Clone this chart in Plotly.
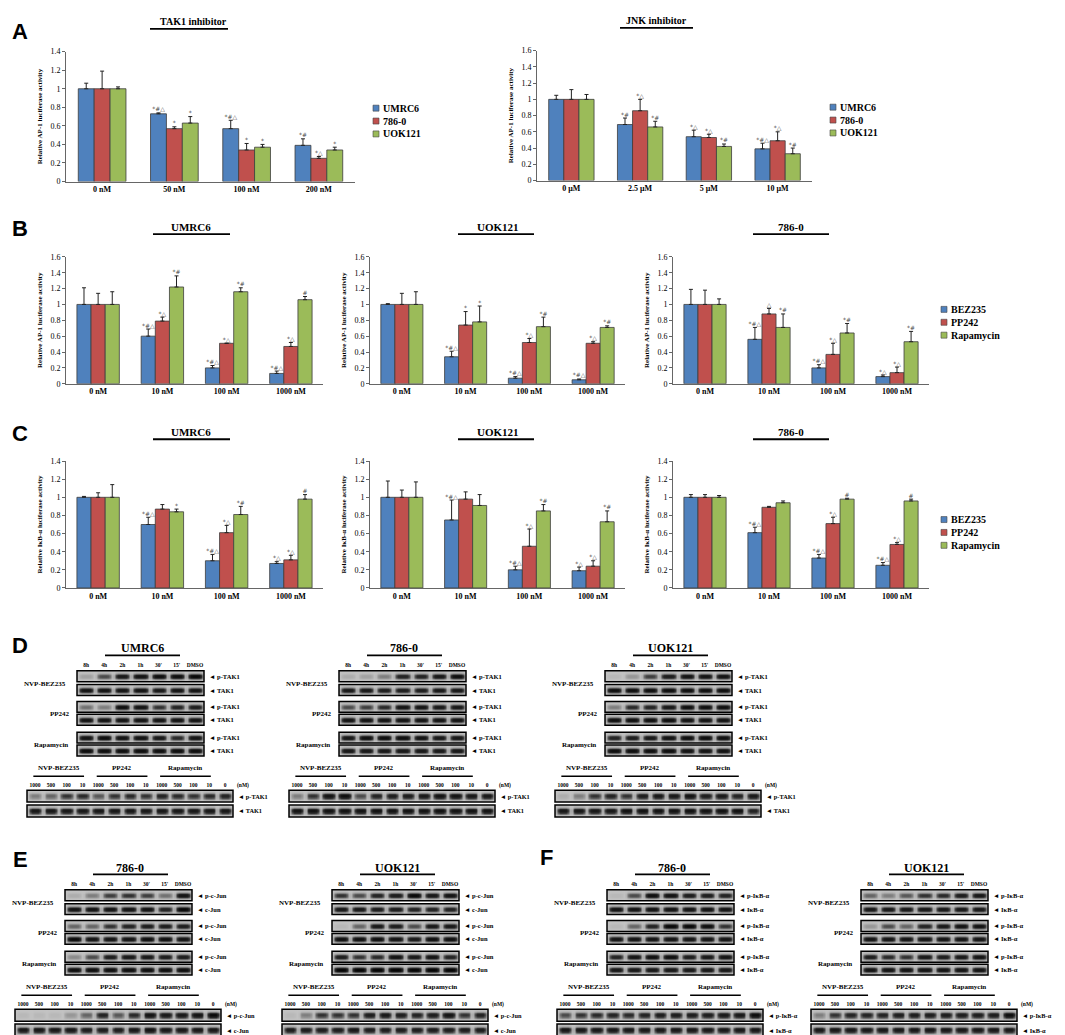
import numpy as np
import plotly.graph_objects as go

W, H = 1065, 1035
SERIF = 'Liberation Serif'
BLUE, RED, GREEN = '#4f81bd', '#c0504d', '#9bbb59'

# ---------------- panel A : AP-1 luciferase, TAK1 / JNK inhibitors ----------------
cell_names = ['UMRC6', '786-0', 'UOK121']
drug_names = ['BEZ235', 'PP242', 'Rapamycin']

tak1_doses = ['0 nM', '50 nM', '100 nM', '200 nM']
tak1_umrc6 = [1.0, 0.73, 0.57, 0.39]
tak1_umrc6_err = [0.06, 0.01, 0.09, 0.07]
tak1_umrc6_sig = ['', '*#△', '*#△', '*#']
tak1_7860 = [1.0, 0.57, 0.34, 0.25]
tak1_7860_err = [0.19, 0.02, 0.07, 0.02]
tak1_7860_sig = ['', '*', '*', '*△']
tak1_uok121 = [1.0, 0.63, 0.37, 0.34]
tak1_uok121_err = [0.02, 0.07, 0.03, 0.03]
tak1_uok121_sig = ['', '*', '*', '*']

jnk_doses = ['0 μM', '2.5 μM', '5 μM', '10 μM']
jnk_umrc6 = [1.0, 0.69, 0.54, 0.39]
jnk_umrc6_err = [0.05, 0.08, 0.08, 0.07]
jnk_umrc6_sig = ['', '*#', '*△', '*#△']
jnk_7860 = [1.0, 0.86, 0.53, 0.49]
jnk_7860_err = [0.12, 0.14, 0.04, 0.11]
jnk_7860_sig = ['', '*△', '*△', '*△']
jnk_uok121 = [1.0, 0.66, 0.42, 0.33]
jnk_uok121_err = [0.06, 0.07, 0.03, 0.07]
jnk_uok121_sig = ['', '*#', '*#', '*#']

# ---------------- panel B : AP-1 luciferase, mTOR inhibitors ----------------
mtor_doses = ['0 nM', '10 nM', '100 nM', '1000 nM']
b_umrc6_bez = [1.0, 0.60, 0.20, 0.13]
b_umrc6_bez_err = [0.21, 0.09, 0.03, 0.03]
b_umrc6_bez_sig = ['', '*#△', '*#△', '*#△']
b_umrc6_pp = [1.0, 0.79, 0.51, 0.47]
b_umrc6_pp_err = [0.14, 0.05, 0.0, 0.05]
b_umrc6_pp_sig = ['', '*△', '*△', '*△']
b_umrc6_rapa = [1.0, 1.22, 1.16, 1.06]
b_umrc6_rapa_err = [0.16, 0.14, 0.05, 0.04]
b_umrc6_rapa_sig = ['', '*#', '*#', '#']

b_uok_bez = [1.0, 0.34, 0.07, 0.05]
b_uok_bez_err = [0.01, 0.07, 0.02, 0.01]
b_uok_bez_sig = ['', '*#△', '*#△', '*#△']
b_uok_pp = [1.0, 0.74, 0.52, 0.51]
b_uok_pp_err = [0.14, 0.17, 0.05, 0.02]
b_uok_pp_sig = ['', '*', '*△', '*△']
b_uok_rapa = [1.0, 0.78, 0.72, 0.71]
b_uok_rapa_err = [0.16, 0.20, 0.12, 0.02]
b_uok_rapa_sig = ['', '*', '*#', '*#']

b_786_bez = [1.0, 0.56, 0.20, 0.09]
b_786_bez_err = [0.19, 0.15, 0.04, 0.02]
b_786_bez_sig = ['', '*#△', '*#△', '*△']
b_786_pp = [1.0, 0.88, 0.37, 0.14]
b_786_pp_err = [0.18, 0.07, 0.14, 0.07]
b_786_pp_sig = ['', '△', '*△', '*△']
b_786_rapa = [1.0, 0.71, 0.64, 0.53]
b_786_rapa_err = [0.07, 0.17, 0.12, 0.13]
b_786_rapa_sig = ['', '*#', '*#', '*#']

# ---------------- panel C : IkB-a luciferase, mTOR inhibitors ----------------
c_umrc6_bez = [1.0, 0.70, 0.30, 0.27]
c_umrc6_bez_err = [0.01, 0.08, 0.07, 0.02]
c_umrc6_bez_sig = ['', '*#△', '*#△', '*△']
c_umrc6_pp = [1.0, 0.87, 0.61, 0.31]
c_umrc6_pp_err = [0.05, 0.05, 0.08, 0.05]
c_umrc6_pp_sig = ['', '', '*△', '*△']
c_umrc6_rapa = [1.0, 0.84, 0.81, 0.98]
c_umrc6_rapa_err = [0.14, 0.03, 0.09, 0.05]
c_umrc6_rapa_sig = ['', '*', '*#', '#']

c_uok_bez = [1.0, 0.75, 0.20, 0.19]
c_uok_bez_err = [0.18, 0.22, 0.04, 0.04]
c_uok_bez_sig = ['', '*#△', '*#△', '*△']
c_uok_pp = [1.0, 0.98, 0.46, 0.24]
c_uok_pp_err = [0.08, 0.08, 0.19, 0.06]
c_uok_pp_sig = ['', '', '*△', '*△']
c_uok_rapa = [1.0, 0.91, 0.85, 0.73]
c_uok_rapa_err = [0.17, 0.12, 0.07, 0.12]
c_uok_rapa_sig = ['', '', '*#', '*#']

c_786_bez = [1.0, 0.61, 0.33, 0.25]
c_786_bez_err = [0.03, 0.06, 0.04, 0.03]
c_786_bez_sig = ['', '*#△', '*#△', '*#△']
c_786_pp = [1.0, 0.89, 0.71, 0.48]
c_786_pp_err = [0.03, 0.01, 0.07, 0.02]
c_786_pp_sig = ['', '', '*△', '*△']
c_786_rapa = [1.0, 0.94, 0.98, 0.96]
c_786_rapa_err = [0.02, 0.02, 0.01, 0.02]
c_786_rapa_sig = ['', '', '#', '#']

# ---------------- western blots : band intensities (0 = none, 1 = saturated) ----------------
time_lanes = ['8h', '4h', '2h', '1h', "30'", "15'", 'DMSO']
dose_lanes = ['1000', '500', '100', '10', '1000', '500', '100', '10', '1000', '500', '100', '10', '0']
drug_rows = ['NVP-BEZ235', 'PP242', 'Rapamycin']

# D - TAK1
d_umrc6_bez_p = [0.15, 0.5, 0.8, 0.85, 0.9, 0.9, 0.95]
d_umrc6_bez_t = [0.85, 0.85, 0.85, 0.85, 0.8, 0.85, 0.85]
d_umrc6_pp_p = [0.35, 0.3, 0.9, 0.85, 0.6, 0.7, 0.75]
d_umrc6_pp_t = [0.85, 0.85, 0.85, 0.85, 0.85, 0.85, 0.85]
d_umrc6_rapa_p = [0.85, 0.9, 0.85, 0.85, 0.8, 0.65, 0.85]
d_umrc6_rapa_t = [0.9, 0.9, 0.9, 0.9, 0.9, 0.9, 0.9]
d_umrc6_dose_p = [0.3, 0.4, 0.6, 0.65, 0.45, 0.6, 0.65, 0.6, 0.7, 0.65, 0.6, 0.65, 0.7]
d_umrc6_dose_t = [0.8, 0.8, 0.8, 0.8, 0.8, 0.8, 0.8, 0.8, 0.8, 0.8, 0.8, 0.8, 0.8]

d_786_bez_p = [0.1, 0.15, 0.3, 0.7, 0.7, 0.8, 0.9]
d_786_bez_t = [0.8, 0.8, 0.75, 0.75, 0.75, 0.8, 0.8]
d_786_pp_p = [0.5, 0.55, 0.65, 0.85, 0.85, 0.8, 0.8]
d_786_pp_t = [0.85, 0.85, 0.85, 0.85, 0.85, 0.85, 0.85]
d_786_rapa_p = [0.8, 0.9, 0.9, 0.9, 0.85, 0.8, 0.8]
d_786_rapa_t = [0.8, 0.8, 0.8, 0.8, 0.8, 0.8, 0.8]
d_786_dose_p = [0.3, 0.6, 0.85, 0.9, 0.5, 0.7, 0.75, 0.75, 0.8, 0.85, 0.85, 0.8, 0.8]
d_786_dose_t = [0.85, 0.85, 0.85, 0.85, 0.85, 0.85, 0.85, 0.85, 0.85, 0.85, 0.85, 0.85, 0.85]

d_uok_bez_p = [0.05, 0.2, 0.55, 0.75, 0.85, 0.85, 0.85]
d_uok_bez_t = [0.9, 0.9, 0.9, 0.9, 0.9, 0.9, 0.9]
d_uok_pp_p = [0.3, 0.65, 0.7, 0.8, 0.9, 0.9, 0.9]
d_uok_pp_t = [0.9, 0.9, 0.9, 0.9, 0.85, 0.85, 0.85]
d_uok_rapa_p = [0.7, 0.75, 0.8, 0.85, 0.9, 0.9, 0.9]
d_uok_rapa_t = [0.9, 0.9, 0.9, 0.9, 0.85, 0.85, 0.85]
d_uok_dose_p = [0.1, 0.3, 0.6, 0.7, 0.6, 0.75, 0.8, 0.8, 0.85, 0.75, 0.8, 0.7, 0.8]
d_uok_dose_t = [0.8, 0.8, 0.8, 0.8, 0.85, 0.85, 0.85, 0.85, 0.85, 0.85, 0.85, 0.85, 0.7]

# E - c-Jun
e_786_bez_p = [0.1, 0.3, 0.55, 0.6, 0.55, 0.35, 0.85]
e_786_bez_t = [0.85, 0.85, 0.85, 0.85, 0.85, 0.7, 0.95]
e_786_pp_p = [0.4, 0.4, 0.6, 0.7, 0.75, 0.75, 0.75]
e_786_pp_t = [0.95, 0.85, 0.85, 0.85, 0.9, 0.9, 0.85]
e_786_rapa_p = [0.25, 0.5, 0.75, 0.8, 0.8, 0.75, 0.75]
e_786_rapa_t = [0.9, 0.9, 0.9, 0.9, 0.9, 0.9, 0.9]
e_786_dose_p = [0.05, 0.05, 0.05, 0.2, 0.4, 0.7, 0.45, 0.65, 0.85, 0.8, 0.8, 0.85, 0.95]
e_786_dose_t = [0.8, 0.8, 0.8, 0.8, 0.75, 0.75, 0.75, 0.8, 0.85, 0.8, 0.8, 0.8, 0.8]

e_uok_bez_p = [0.6, 0.5, 0.7, 0.75, 0.95, 0.8, 0.85]
e_uok_bez_t = [0.8, 0.8, 0.75, 0.75, 0.7, 0.7, 0.7]
e_uok_pp_p = [0.05, 0.4, 0.8, 0.75, 0.5, 0.8, 0.8]
e_uok_pp_t = [0.9, 0.9, 0.9, 0.85, 0.8, 0.9, 0.9]
e_uok_rapa_p = [0.75, 0.6, 0.65, 0.85, 0.8, 0.85, 0.7]
e_uok_rapa_t = [1.0, 1.0, 1.0, 1.0, 1.0, 1.0, 1.0]
e_uok_dose_p = [0.05, 0.3, 0.6, 0.6, 0.6, 0.75, 0.8, 0.75, 0.7, 0.75, 0.85, 0.6, 0.7]
e_uok_dose_t = [0.75, 0.75, 0.75, 0.75, 0.8, 0.75, 0.75, 0.75, 0.75, 0.75, 0.75, 0.75, 0.75]

# F - IkB-a
f_786_bez_p = [0.05, 0.5, 0.9, 0.85, 0.75, 0.75, 0.7]
f_786_bez_t = [0.85, 0.85, 0.85, 0.85, 0.85, 0.85, 0.85]
f_786_pp_p = [0.05, 0.4, 0.7, 0.95, 0.95, 0.9, 0.6]
f_786_pp_t = [0.85, 0.85, 0.85, 0.85, 0.85, 0.85, 0.85]
f_786_rapa_p = [0.7, 0.85, 0.9, 0.9, 0.75, 0.8, 0.85]
f_786_rapa_t = [0.8, 0.8, 0.8, 0.8, 0.8, 0.8, 0.8]
f_786_dose_p = [0.5, 0.6, 0.65, 0.7, 0.65, 0.7, 0.75, 0.75, 0.75, 0.75, 0.8, 0.8, 0.9]
f_786_dose_t = [0.8, 0.8, 0.8, 0.8, 0.8, 0.8, 0.8, 0.8, 0.8, 0.8, 0.8, 0.8, 0.8]

f_uok_bez_p = [0.4, 0.3, 0.45, 0.6, 0.65, 0.75, 0.8]
f_uok_bez_t = [0.8, 0.8, 0.8, 0.8, 0.8, 0.8, 0.8]
f_uok_pp_p = [0.2, 0.5, 0.4, 0.7, 0.8, 0.85, 0.85]
f_uok_pp_t = [0.85, 0.85, 0.85, 0.85, 0.85, 0.85, 0.85]
f_uok_rapa_p = [0.75, 0.65, 0.6, 0.8, 0.75, 0.8, 0.85]
f_uok_rapa_t = [0.85, 0.85, 0.85, 0.85, 0.85, 0.85, 0.85]
f_uok_dose_p = [0.3, 0.6, 0.7, 0.7, 0.7, 0.75, 0.75, 0.75, 0.75, 0.75, 0.75, 0.75, 0.9]
f_uok_dose_t = [0.8, 0.8, 0.8, 0.8, 0.8, 0.8, 0.8, 0.8, 0.8, 0.8, 0.8, 0.8, 0.8]

fig = go.Figure()

# overlay axis in pixel units (x right, y down) for the blots and free text
fig.update_layout(
    xaxis=dict(domain=[0, 1], range=[0, W], visible=False, fixedrange=True),
    yaxis=dict(domain=[0, 1], range=[H, 0], visible=False, fixedrange=True),
)


def txt(x, y, s, size=8, anchor='center', font=SERIF, bold=True):
    fig.add_annotation(x=x, y=y, xref='x', yref='y', text=f'<b>{s}</b>' if bold else s,
                       showarrow=False, xanchor=anchor, yanchor='middle',
                       font=dict(family=font, size=size, color='black'))


def hline(x0, x1, y, w=1.8):
    fig.add_shape(type='line', x0=x0, x1=x1, y0=y, y1=y, xref='x', yref='y',
                  line=dict(color='black', width=w))


# ---------------- bar charts ----------------
BW = 0.22


def bars(n, cats, series, ymax, box, ytitle):
    xa, ya = f'x{n}', f'y{n}'
    for k, (color, vals, err, sig) in enumerate(series):
        xs = np.arange(len(cats)) + (k - 1) * BW
        fig.add_trace(go.Bar(
            x=xs, y=vals, width=BW, xaxis=xa, yaxis=ya, showlegend=False, hoverinfo='skip',
            marker=dict(color=color, line=dict(color='#3c3c3c', width=0.8)),
            error_y=dict(type='data', symmetric=False, array=err, arrayminus=[0] * len(err),
                         color='#222', thickness=1, width=2)))
        tops = np.array(vals) + np.array(err)
        fig.add_trace(go.Scatter(
            x=xs, y=tops, text=sig, mode='text', textposition='top center', xaxis=xa, yaxis=ya,
            textfont=dict(family='DejaVu Sans', size=6, color='#444'), showlegend=False,
            cliponaxis=False, hoverinfo='skip'))
    xl, xr, yt, yb = box
    fig.layout[f'xaxis{n}'] = dict(
        domain=[xl / W, xr / W], anchor=ya, range=[-0.5, len(cats) - 0.5],
        tickvals=list(range(len(cats))), ticktext=[f'<b>{c}</b>' for c in cats],
        tickfont=dict(family=SERIF, size=8, color='black'), showline=True,
        linecolor='#666', linewidth=1, ticks='', showgrid=False, zeroline=False, fixedrange=True)
    fig.layout[f'yaxis{n}'] = dict(
        domain=[1 - yb / H, 1 - yt / H], anchor=xa, range=[0, ymax], dtick=0.2,
        tickfont=dict(family=SERIF, size=8, color='black'), showline=True, linecolor='#666',
        linewidth=1, ticks='outside', ticklen=3, tickcolor='#666', showgrid=False,
        zeroline=False, fixedrange=True,
        title=dict(text=f'<b>{ytitle}</b>', font=dict(family=SERIF, size=7, color='black'),
                   standoff=6))


def legend_box(x, y0, names, colors):
    ys = [y0 + 13 * i for i in range(len(names))]
    fig.add_trace(go.Scatter(x=[x] * len(names), y=ys, mode='markers', xaxis='x', yaxis='y',
                             marker=dict(symbol='square', size=6, color=colors,
                                         line=dict(color='#444', width=0.6)),
                             showlegend=False, hoverinfo='skip'))
    for name, y in zip(names, ys):
        txt(x + 5, y, name, size=10, anchor='left')


ap1 = 'Relative AP-1 luciferase activity'
ikb = 'Relative IκB-α luciferase activity'
cols = [BLUE, RED, GREEN]

bars(2, tak1_doses, [(BLUE, tak1_umrc6, tak1_umrc6_err, tak1_umrc6_sig),
                     (RED, tak1_7860, tak1_7860_err, tak1_7860_sig),
                     (GREEN, tak1_uok121, tak1_uok121_err, tak1_uok121_sig)],
     1.4, (58, 347, 40, 171), ap1)
bars(3, jnk_doses, [(BLUE, jnk_umrc6, jnk_umrc6_err, jnk_umrc6_sig),
                    (RED, jnk_7860, jnk_7860_err, jnk_7860_sig),
                    (GREEN, jnk_uok121, jnk_uok121_err, jnk_uok121_sig)],
     1.6, (529, 804, 39, 170), ap1)
bars(4, mtor_doses, [(BLUE, b_umrc6_bez, b_umrc6_bez_err, b_umrc6_bez_sig),
                     (RED, b_umrc6_pp, b_umrc6_pp_err, b_umrc6_pp_sig),
                     (GREEN, b_umrc6_rapa, b_umrc6_rapa_err, b_umrc6_rapa_sig)],
     1.6, (58, 315, 247, 375), ap1)
bars(5, mtor_doses, [(BLUE, b_uok_bez, b_uok_bez_err, b_uok_bez_sig),
                     (RED, b_uok_pp, b_uok_pp_err, b_uok_pp_sig),
                     (GREEN, b_uok_rapa, b_uok_rapa_err, b_uok_rapa_sig)],
     1.6, (362, 617, 247, 375), ap1)
bars(6, mtor_doses, [(BLUE, b_786_bez, b_786_bez_err, b_786_bez_sig),
                     (RED, b_786_pp, b_786_pp_err, b_786_pp_sig),
                     (GREEN, b_786_rapa, b_786_rapa_err, b_786_rapa_sig)],
     1.6, (665, 921, 247, 375), ap1)
bars(7, mtor_doses, [(BLUE, c_umrc6_bez, c_umrc6_bez_err, c_umrc6_bez_sig),
                     (RED, c_umrc6_pp, c_umrc6_pp_err, c_umrc6_pp_sig),
                     (GREEN, c_umrc6_rapa, c_umrc6_rapa_err, c_umrc6_rapa_sig)],
     1.4, (58, 315, 453, 581), ikb)
bars(8, mtor_doses, [(BLUE, c_uok_bez, c_uok_bez_err, c_uok_bez_sig),
                     (RED, c_uok_pp, c_uok_pp_err, c_uok_pp_sig),
                     (GREEN, c_uok_rapa, c_uok_rapa_err, c_uok_rapa_sig)],
     1.4, (362, 617, 453, 581), ikb)
bars(9, mtor_doses, [(BLUE, c_786_bez, c_786_bez_err, c_786_bez_sig),
                     (RED, c_786_pp, c_786_pp_err, c_786_pp_sig),
                     (GREEN, c_786_rapa, c_786_rapa_err, c_786_rapa_sig)],
     1.4, (665, 921, 453, 581), ikb)

legend_box(368, 97, cell_names, cols)
legend_box(825, 96, cell_names, cols)
legend_box(936, 300, drug_names, cols)
legend_box(936, 512, drug_names, cols)

# bar chart headings
for label, cx, y, ul in [('TAK1 inhibitor', 185, 10, (142, 220)), ('JNK inhibitor', 648, 9, (612, 685)),
                         ('UMRC6', 183, 217, (145, 222)), ('UOK121', 490, 217, (450, 526)),
                         ('786-0', 783, 217, (745, 821)),
                         ('UMRC6', 183, 424, (145, 222)), ('UOK121', 490, 424, (450, 526)),
                         ('786-0', 783, 424, (745, 821))]:
    txt(cx, y, label, size=10 if 'inhibitor' in label else 11)
    hline(ul[0], ul[1], y + 7)

# ---------------- western blots ----------------
GREYS = [[0, '#d6d6d6'], [0.3, '#8e8e8e'], [0.65, '#2c2c2c'], [1, '#040404']]
HPROF = np.array([0.15, 0.7, 0.95, 1, 1, 1, 0.95, 0.7, 0.15])
VPROF = np.array([0.0, 0.15, 0.7, 1, 1, 0.7, 0.15, 0.0])
BG = 0.08


def strip(x0, x1, yc, vals, h=11):
    row = np.concatenate([v * HPROF for v in vals])
    z = BG + (1 - BG) * np.outer(VPROF, row)
    dx = (x1 - x0) / len(row)
    dy = h / len(VPROF)
    fig.add_trace(go.Heatmap(z=z, x0=x0 + dx / 2, dx=dx, y0=yc - h / 2 + dy / 2, dy=dy,
                             colorscale=GREYS, zmin=0, zmax=1, showscale=False, zsmooth='best',
                             hoverinfo='skip', xaxis='x', yaxis='y'))
    fig.add_shape(type='rect', x0=x0, x1=x1, y0=yc - h / 2, y1=yc + h / 2, xref='x', yref='y',
                  line=dict(color='black', width=1.5))


def lane_text(xs, y, labels, size=5.5, pos='middle center'):
    fig.add_trace(go.Scatter(x=xs, y=[y] * len(xs), text=[f'<b>{t}</b>' for t in labels],
                             mode='text', textposition=pos, xaxis='x', yaxis='y',
                             textfont=dict(family=SERIF, size=size, color='black'),
                             showlegend=False, hoverinfo='skip', cliponaxis=False))


ROW_Y = [28, 42, 59, 72, 90, 103]
ROW_LBL_X = [25, 40, 31]


def blot(ox, oy, cell, rows, dose, ptag, ttag):
    txt(ox + 122, oy, cell, size=12)
    hline(ox + 85, ox + 160, oy + 7)
    tl, tr = ox + 57, ox + 184
    lw = (tr - tl) / len(time_lanes)
    lane_text([tl + lw * (i + 0.5) for i in range(len(time_lanes))], oy + 17, time_lanes)
    for r, vals in enumerate(rows):
        strip(tl, tr, oy + ROW_Y[r], vals)
        txt(tr + 3, oy + ROW_Y[r], '◄ ' + (ptag if r % 2 == 0 else ttag), size=6.5, anchor='left')
    for j, name in enumerate(drug_rows):
        txt(ox + ROW_LBL_X[j], oy + (ROW_Y[2 * j] + ROW_Y[2 * j + 1]) / 2 + 1, name, size=7)
    dl, dr = ox + 7, ox + 213
    dw = (dr - dl) / len(dose_lanes)
    for j, name in enumerate(drug_rows):
        c = dl + dw * (4 * j + 2)
        txt(c, oy + 121, name, size=7)
        hline(c - 1.6 * dw, c + 1.6 * dw, oy + 129, w=1.5)
    lane_text([dl + dw * (i + 0.5) for i in range(len(dose_lanes))], oy + 138, dose_lanes)
    txt(dr + 2, oy + 138, '(nM)', size=5.5, anchor='left')
    strip(dl, dr, oy + 149, dose[0], h=12)
    strip(dl, dr, oy + 164, dose[1], h=12)
    txt(dr + 3, oy + 149, '◄ ' + ptag, size=6.3, anchor='left')
    txt(dr + 3, oy + 164, '◄ ' + ttag, size=6.3, anchor='left')


blot(12, 642, 'UMRC6', [d_umrc6_bez_p, d_umrc6_bez_t, d_umrc6_pp_p, d_umrc6_pp_t, d_umrc6_rapa_p, d_umrc6_rapa_t],
     [d_umrc6_dose_p, d_umrc6_dose_t], 'p-TAK1', 'TAK1')
blot(274, 642, '786-0', [d_786_bez_p, d_786_bez_t, d_786_pp_p, d_786_pp_t, d_786_rapa_p, d_786_rapa_t],
     [d_786_dose_p, d_786_dose_t], 'p-TAK1', 'TAK1')
blot(540, 642, 'UOK121', [d_uok_bez_p, d_uok_bez_t, d_uok_pp_p, d_uok_pp_t, d_uok_rapa_p, d_uok_rapa_t],
     [d_uok_dose_p, d_uok_dose_t], 'p-TAK1', 'TAK1')
blot(0, 863, '786-0', [e_786_bez_p, e_786_bez_t, e_786_pp_p, e_786_pp_t, e_786_rapa_p, e_786_rapa_t],
     [e_786_dose_p, e_786_dose_t], 'p-c-Jun', 'c-Jun')
blot(267, 863, 'UOK121', [e_uok_bez_p, e_uok_bez_t, e_uok_pp_p, e_uok_pp_t, e_uok_rapa_p, e_uok_rapa_t],
     [e_uok_dose_p, e_uok_dose_t], 'p-c-Jun', 'c-Jun')
blot(542, 863, '786-0', [f_786_bez_p, f_786_bez_t, f_786_pp_p, f_786_pp_t, f_786_rapa_p, f_786_rapa_t],
     [f_786_dose_p, f_786_dose_t], 'p-IκB-α', 'IκB-α')
blot(796, 863, 'UOK121', [f_uok_bez_p, f_uok_bez_t, f_uok_pp_p, f_uok_pp_t, f_uok_rapa_p, f_uok_rapa_t],
     [f_uok_dose_p, f_uok_dose_t], 'p-IκB-α', 'IκB-α')

# panel letters
for letter, x, y in [('A', 12, 20), ('B', 12, 218), ('C', 12, 425), ('D', 12, 639),
                     ('E', 12, 855), ('F', 538, 853)]:
    txt(x, y, letter, size=22, font='Liberation Sans')

fig.update_layout(
    width=W, height=H, margin=dict(l=0, r=0, t=0, b=0), showlegend=False,
    paper_bgcolor='white', plot_bgcolor='rgba(0,0,0,0)', barmode='overlay',
)

fig.write_html("out.html")
